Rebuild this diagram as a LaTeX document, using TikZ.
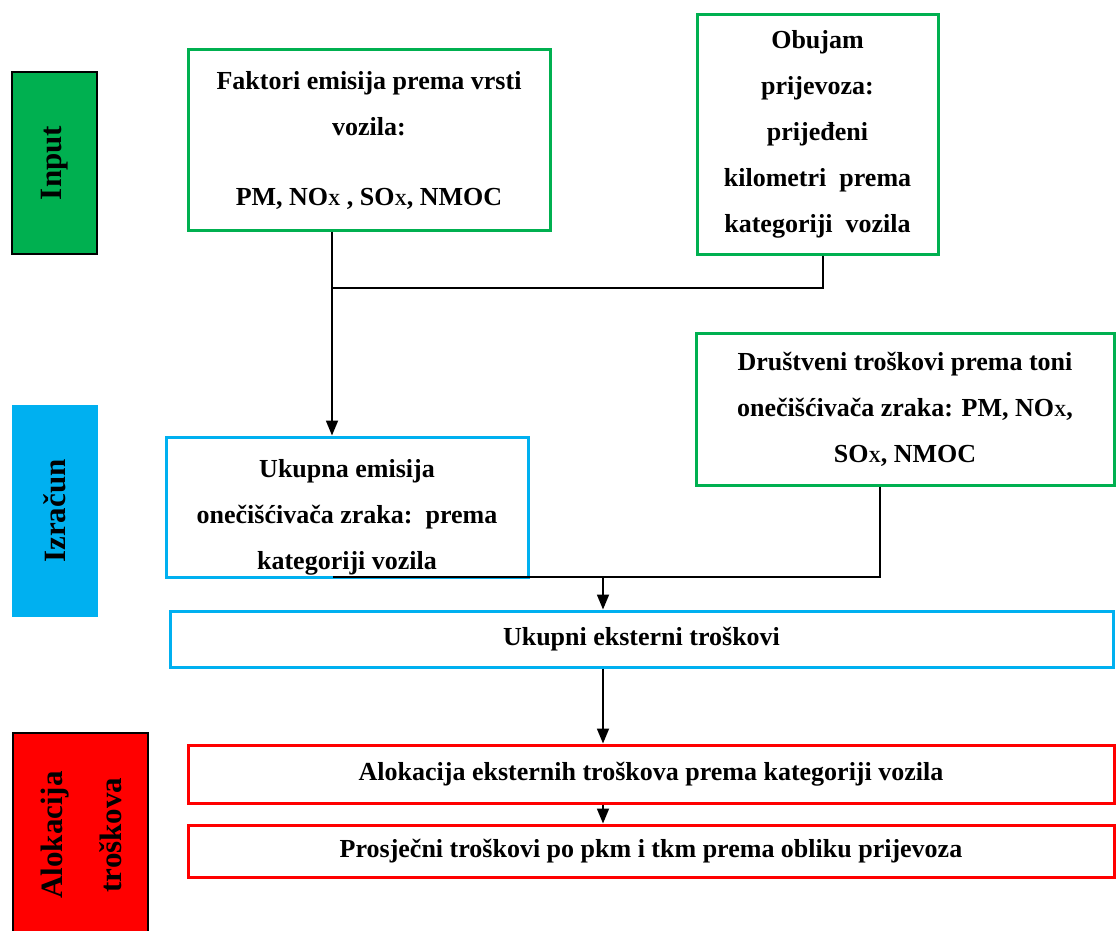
\documentclass[tikz,border=0pt]{standalone}
\usepackage{fontspec}
\setmainfont{Liberation Serif}
\usetikzlibrary{arrows.meta}
\definecolor{cgreen}{HTML}{00B050}
\definecolor{cblue}{HTML}{00B0F0}
\definecolor{cred}{HTML}{FF0000}
\newcommand{\subX}{\raisebox{-0.5pt}{\fontsize{17}{17}\selectfont X}}
\begin{document}
\begin{tikzpicture}[x=1pt,y=-1pt,
  tx/.style={font=\fontsize{26}{46}\selectfont\bfseries, align=center, text=black, inner sep=0pt},
  lbl/.style={font=\fontsize{31}{59}\selectfont\bfseries, align=center, text=black, inner sep=0pt},
  bar/.style={line width=2pt, inner sep=0pt},
  gbox/.style={draw=cgreen, line width=3pt, inner sep=0pt, align=center, font=\fontsize{26}{46}\selectfont\bfseries},
  bbox/.style={draw=cblue, line width=3pt, inner sep=0pt, align=center, font=\fontsize{26}{46}\selectfont\bfseries},
  rbox/.style={draw=cred, line width=3pt, inner sep=0pt, align=center, font=\fontsize{26}{46}\selectfont\bfseries},
  conn/.style={line width=1.8pt, draw=black},
  arr/.style={conn, -{Triangle[width=12pt,length=15pt]}}]
\useasboundingbox (0,0) rectangle (1116,931);
\fill[white] (0,0) rectangle (1116,931);

% left phase bars
\node[bar, draw=black, fill=cgreen, minimum width=85, minimum height=182] (binput) at (54.5,163) {};
\node[lbl, rotate=90] (linput) at (binput.center) {Input};
\node[bar, fill=cblue, minimum width=86, minimum height=212] (bizr) at (55,511) {};
\node[lbl, rotate=90] (lizr) at (bizr.center) {Izračun};
\node[bar, draw=black, fill=cred, minimum width=135, minimum height=217] (balo) at (80.5,841.5) {};
\node[lbl, rotate=90] (lalo) at (81,835) {Alokacija\\troškova};

% boxes
\node[gbox, minimum width=362, minimum height=180] (fak) at (369,140)
  {Faktori emisija prema vrsti\\ vozila:\\[24pt] PM, NO\subX{} , SO\subX, NMOC};
\node[gbox, minimum width=241, minimum height=239] (obu) at (817.5,134.5)
  {Obujam\\ prijevoza:\\ prijeđeni\\ kilometri\ \ prema\\ kategoriji\ \ vozila};
\node[gbox, minimum width=418, minimum height=152] (dru) at (905,409)
  {Društveni troškovi prema toni\\ onečišćivača zraka: PM, NO\subX,\\ SO\subX, NMOC};
\node[tx] (ukt) at (347,517)
  {Ukupna emisija\\ onečišćivača zraka:\ \ prema\\ kategoriji vozila};
\node[bbox, minimum width=362, minimum height=140] (uk) at (347,507) {};
\node[bbox, minimum width=943, minimum height=56] (ext) at (641.5,639) {Ukupni eksterni troškovi};
\node[rbox, minimum width=926, minimum height=58] (alo) at (651,774) {Alokacija eksternih troškova prema kategoriji vozila};
\node[rbox, minimum width=926, minimum height=52] (pro) at (651,851) {Prosječni troškovi po pkm i tkm prema obliku prijevoza};

% connectors
\coordinate (xo) at (823,0);
\coordinate (xf) at (332,0);
\coordinate (xd) at (880,0);
\coordinate (xm) at (603,0);
\coordinate (j1) at (332,288);
\coordinate (j2) at (333,577);
\coordinate (j3) at (603,577);
\draw[conn] (obu.south -| xo) |- (j1);
\draw[arr] (fak.south -| xf) -- (uk.north -| xf);
\draw[conn] (dru.south -| xd) |- (j2);
\draw[arr] (j3) -- (ext.north -| xm);
\draw[arr] (ext.south -| xm) -- (alo.north -| xm);
\draw[arr] (alo.south -| xm) -- (pro.north -| xm);
\end{tikzpicture}
\end{document}
